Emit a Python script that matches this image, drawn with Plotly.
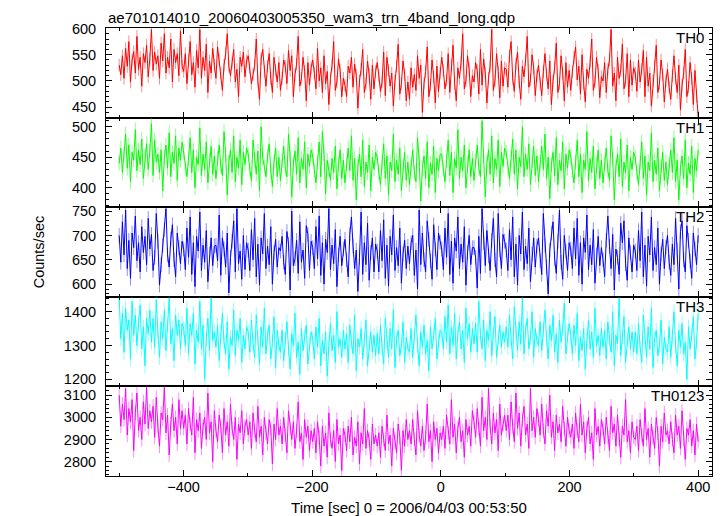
import numpy as np
import plotly.graph_objects as go
from plotly.subplots import make_subplots

title_text = "ae701014010_20060403005350_wam3_trn_4band_long.qdp"
band_names = ["TH0", "TH1", "TH2", "TH3", "TH0123"]
band_colors = ["#ff0000", "#00ff00", "#0000ff", "#00ffff", "#ff00ff"]
err_colors = ["rgba(255,0,0,0.45)", "rgba(0,255,0,0.45)", "rgba(0,0,255,0.45)",
              "rgba(0,255,255,0.45)", "rgba(255,0,255,0.45)"]

# time bins (sec), 0 = 2006/04/03 00:53:50
time_start = -500.0
time_stop = 400.0
n_bins = 360

# typical 1-sigma error bar of each band (counts/sec)
band_errors = [12, 12, 15, 22, 32]

th0 = [
    530, 512, 548, 505, 562, 528, 575, 498, 540, 556, 515, 585, 522, 545, 490, 552, 535, 568, 508, 542,
    598, 520, 555, 532, 548, 505, 572, 538, 590, 515, 545, 525, 580, 498, 560, 535, 552, 510, 595, 528,
    518, 552, 495, 540, 575, 512, 535, 488, 558, 525, 598, 505, 545, 520, 570, 478, 538, 515, 562, 530,
    505, 565, 540, 515, 482, 530, 552, 590, 528, 510, 535, 560, 498, 522, 470, 545, 528, 555, 508, 538,
    548, 525, 495, 512, 530, 580, 500, 465, 542, 560, 518, 490, 528, 552, 505, 478, 545, 520, 498, 535,
    482, 505, 540, 528, 495, 558, 520, 548, 470, 512, 532, 585, 490, 505, 545, 518, 462, 535, 492, 525,
    540, 515, 485, 562, 500, 525, 478, 548, 495, 518, 455, 505, 530, 575, 482, 498, 542, 520, 470, 505,
    492, 470, 528, 515, 545, 488, 532, 510, 448, 500, 522, 560, 478, 495, 538, 512, 465, 530, 485, 518,
    535, 510, 480, 498, 555, 472, 545, 520, 490, 515, 452, 500, 528, 570, 475, 495, 538, 512, 462, 498,
    465, 525, 488, 512, 482, 548, 505, 530, 440, 495, 518, 565, 470, 492, 540, 508, 458, 528, 480, 515,
    545, 520, 485, 502, 552, 478, 530, 568, 495, 462, 525, 505, 535, 590, 485, 500, 548, 522, 470, 510,
    498, 535, 520, 475, 560, 492, 542, 515, 458, 505, 528, 598, 482, 500, 552, 518, 468, 538, 490, 525,
    522, 488, 548, 575, 505, 480, 532, 555, 498, 465, 528, 508, 540, 585, 488, 502, 550, 525, 472, 510,
    530, 495, 472, 518, 552, 512, 485, 538, 455, 500, 525, 572, 478, 495, 548, 515, 462, 535, 488, 520,
    482, 518, 545, 565, 502, 528, 475, 550, 495, 460, 522, 505, 535, 580, 482, 498, 545, 520, 468, 508,
    500, 535, 478, 522, 540, 598, 490, 515, 462, 545, 505, 520, 570, 485, 500, 552, 470, 540, 492, 525,
    515, 480, 540, 498, 522, 558, 470, 545, 490, 515, 452, 500, 528, 568, 478, 495, 540, 512, 460, 500,
    522, 488, 465, 510, 548, 505, 478, 530, 445, 492, 515, 560, 470, 488, 535, 505, 455, 520, 470, 432,
]
th1 = [
    440, 465, 425, 455, 488, 432, 470, 410, 458, 445, 495, 428, 462, 438, 480, 415, 452, 472, 430, 460,
    505, 420, 478, 442, 455, 425, 462, 395, 450, 470, 432, 490, 418, 458, 440, 485, 412, 465, 445, 475,
    458, 432, 418, 448, 482, 425, 462, 400, 450, 438, 498, 420, 455, 430, 475, 408, 445, 468, 422, 452,
    415, 448, 470, 435, 420, 492, 455, 388, 442, 462, 425, 485, 410, 450, 432, 478, 405, 458, 438, 465,
    455, 430, 412, 478, 445, 422, 460, 395, 500, 448, 435, 418, 452, 472, 428, 402, 442, 465, 418, 450,
    412, 445, 468, 432, 418, 488, 452, 385, 440, 460, 422, 482, 408, 448, 430, 475, 400, 455, 435, 462,
    452, 428, 408, 442, 475, 418, 492, 455, 390, 445, 430, 412, 448, 425, 468, 398, 438, 462, 415, 445,
    408, 440, 465, 428, 485, 412, 448, 380, 435, 455, 418, 478, 402, 442, 425, 470, 395, 450, 430, 458,
    450, 425, 405, 440, 472, 415, 452, 388, 442, 428, 488, 410, 445, 422, 465, 395, 435, 458, 412, 442,
    405, 438, 462, 425, 410, 482, 445, 378, 432, 452, 415, 475, 400, 440, 422, 468, 392, 448, 428, 455,
    455, 430, 410, 445, 478, 420, 458, 392, 448, 432, 495, 415, 450, 428, 470, 400, 440, 462, 418, 448,
    412, 445, 470, 432, 418, 510, 452, 385, 440, 462, 422, 485, 408, 448, 430, 478, 402, 458, 435, 465,
    458, 432, 415, 448, 480, 422, 462, 398, 450, 435, 500, 418, 455, 430, 472, 405, 445, 468, 420, 452,
    410, 442, 468, 430, 488, 415, 450, 382, 438, 458, 420, 482, 405, 445, 428, 475, 398, 455, 432, 462,
    452, 428, 408, 442, 478, 418, 455, 392, 445, 430, 492, 412, 448, 425, 468, 398, 438, 462, 415, 445,
    408, 440, 465, 428, 412, 485, 448, 380, 435, 455, 418, 480, 402, 442, 425, 470, 395, 450, 430, 458,
    450, 425, 405, 440, 475, 415, 452, 388, 442, 428, 490, 410, 445, 422, 465, 395, 435, 458, 412, 442,
    405, 438, 462, 425, 482, 410, 445, 380, 432, 452, 415, 478, 400, 440, 422, 468, 392, 448, 428, 462,
]
th2 = [
    700, 645, 728, 660, 752, 632, 690, 612, 705, 675, 740, 648, 685, 625, 718, 665, 698, 640, 735, 672,
    702, 628, 655, 745, 688, 598, 640, 680, 712, 755, 660, 635, 692, 722, 650, 615, 705, 675, 642, 688,
    672, 630, 715, 655, 738, 620, 685, 595, 698, 668, 748, 628, 680, 645, 710, 605, 662, 695, 638, 678,
    680, 648, 742, 618, 695, 672, 635, 705, 582, 655, 688, 730, 625, 755, 642, 668, 610, 700, 630, 685,
    670, 628, 712, 650, 735, 615, 682, 598, 695, 662, 745, 632, 678, 640, 718, 600, 665, 692, 635, 675,
    668, 698, 645, 620, 708, 682, 588, 750, 638, 652, 690, 622, 728, 645, 670, 612, 720, 702, 628, 688,
    675, 632, 718, 652, 740, 618, 685, 600, 692, 665, 755, 630, 680, 642, 712, 595, 660, 698, 638, 672,
    692, 650, 615, 702, 738, 678, 632, 670, 585, 655, 748, 620, 685, 640, 725, 608, 665, 695, 625, 682,
    668, 625, 710, 648, 732, 612, 680, 596, 698, 660, 742, 628, 675, 638, 715, 602, 662, 690, 632, 678,
    642, 685, 700, 618, 670, 590, 752, 640, 705, 650, 625, 730, 692, 648, 610, 722, 672, 630, 705, 686,
    672, 630, 715, 655, 745, 620, 688, 602, 695, 668, 738, 632, 682, 645, 718, 598, 665, 700, 640, 675,
    675, 655, 592, 698, 622, 755, 685, 638, 710, 658, 628, 690, 735, 650, 615, 745, 670, 632, 702, 688,
    670, 628, 712, 650, 738, 615, 682, 598, 700, 662, 748, 630, 678, 642, 715, 605, 662, 695, 635, 678,
    695, 648, 620, 745, 680, 635, 580, 670, 705, 728, 652, 622, 688, 752, 645, 610, 700, 668, 628, 685,
    672, 632, 715, 652, 735, 618, 685, 600, 695, 665, 742, 630, 680, 640, 712, 602, 660, 698, 638, 675,
    650, 615, 690, 740, 678, 632, 702, 588, 672, 655, 620, 725, 685, 730, 642, 608, 695, 665, 625, 680,
    668, 628, 710, 648, 748, 615, 680, 596, 698, 660, 738, 628, 675, 640, 715, 600, 662, 692, 632, 676,
    700, 645, 618, 682, 640, 735, 670, 590, 708, 730, 650, 625, 720, 690, 648, 612, 705, 672, 640, 700,
]
th3 = [
    1440, 1320, 1395, 1280, 1410, 1345, 1375, 1260, 1430, 1330, 1390, 1300, 1365, 1420, 1290, 1355, 1240, 1380, 1335, 1405,
    1310, 1380, 1295, 1435, 1340, 1265, 1370, 1320, 1405, 1285, 1360, 1440, 1305, 1350, 1255, 1390, 1330, 1375, 1290, 1365,
    1350, 1300, 1410, 1275, 1365, 1330, 1395, 1245, 1345, 1310, 1430, 1290, 1360, 1200, 1320, 1380, 1285, 1440, 1315, 1340,
    1295, 1360, 1255, 1340, 1395, 1310, 1275, 1370, 1230, 1325, 1300, 1405, 1270, 1345, 1315, 1380, 1250, 1330, 1290, 1355,
    1340, 1280, 1375, 1305, 1265, 1390, 1320, 1245, 1355, 1295, 1410, 1275, 1330, 1360, 1260, 1310, 1385, 1235, 1345, 1300,
    1280, 1345, 1255, 1320, 1370, 1290, 1230, 1335, 1300, 1395, 1265, 1310, 1215, 1350, 1285, 1325, 1360, 1245, 1305, 1340,
    1320, 1260, 1355, 1295, 1380, 1240, 1315, 1275, 1340, 1210, 1300, 1365, 1285, 1330, 1250, 1400, 1295, 1320, 1265, 1345,
    1290, 1335, 1250, 1360, 1310, 1275, 1390, 1225, 1320, 1295, 1350, 1260, 1315, 1375, 1240, 1305, 1340, 1280, 1330, 1270,
    1335, 1275, 1360, 1295, 1245, 1380, 1310, 1265, 1350, 1290, 1405, 1235, 1320, 1345, 1270, 1300, 1370, 1250, 1325, 1290,
    1280, 1350, 1265, 1325, 1390, 1300, 1240, 1340, 1295, 1360, 1275, 1315, 1225, 1355, 1290, 1330, 1380, 1260, 1310, 1345,
    1340, 1290, 1385, 1310, 1420, 1275, 1355, 1300, 1395, 1260, 1335, 1370, 1290, 1345, 1250, 1410, 1320, 1365, 1280, 1350,
    1305, 1365, 1280, 1430, 1330, 1290, 1375, 1255, 1345, 1315, 1400, 1270, 1335, 1385, 1265, 1325, 1360, 1295, 1340, 1310,
    1355, 1295, 1390, 1320, 1260, 1415, 1335, 1285, 1370, 1305, 1440, 1275, 1345, 1380, 1290, 1325, 1400, 1265, 1350, 1315,
    1300, 1370, 1285, 1345, 1405, 1320, 1260, 1360, 1315, 1390, 1280, 1335, 1250, 1375, 1310, 1350, 1425, 1275, 1330, 1365,
    1330, 1275, 1360, 1300, 1395, 1255, 1325, 1285, 1350, 1230, 1315, 1375, 1290, 1340, 1265, 1410, 1300, 1330, 1270, 1350,
    1295, 1345, 1260, 1370, 1320, 1280, 1400, 1240, 1330, 1305, 1440, 1270, 1325, 1385, 1250, 1315, 1355, 1290, 1340, 1280,
    1340, 1275, 1365, 1295, 1250, 1390, 1310, 1265, 1355, 1290, 1410, 1235, 1320, 1345, 1270, 1300, 1375, 1245, 1325, 1290,
    1280, 1355, 1265, 1325, 1400, 1300, 1240, 1345, 1295, 1365, 1275, 1310, 1200, 1355, 1290, 1330, 1385, 1260, 1310, 1395,
]
th0123 = [
    3100, 2960, 3060, 2990, 3130, 2920, 3040, 2980, 3080, 2850, 3020, 3110, 2940, 3000, 2900, 3070, 2970, 3135, 2950, 3030,
    2980, 3050, 2910, 3090, 2960, 2870, 3020, 2990, 3135, 2930, 3010, 2830, 2970, 3060, 2940, 3000, 2880, 3080, 2950, 3030,
    2950, 3010, 2880, 3040, 2970, 2920, 3090, 2840, 2990, 2940, 3020, 2860, 2960, 3000, 2900, 3110, 2930, 2980, 2800, 3030,
    2940, 2890, 3010, 2960, 2840, 3040, 2920, 2980, 2870, 3060, 2950, 2900, 3000, 2810, 2970, 2930, 3030, 2880, 2960, 2990,
    2920, 2980, 2860, 3020, 2940, 2890, 3050, 2910, 2960, 2830, 3000, 2930, 2880, 2990, 2950, 2790, 2970, 2900, 3040, 2920,
    2960, 2880, 3000, 2920, 2840, 3030, 2950, 2900, 2980, 2860, 2940, 3070, 2890, 2930, 2810, 2990, 2910, 2960, 2850, 2940,
    2890, 2950, 2840, 2980, 2910, 2780, 2960, 2870, 2930, 2820, 3020, 2900, 2860, 2940, 2800, 2990, 2880, 2920, 2760, 2950,
    2920, 2850, 2960, 2890, 3000, 2830, 2910, 2870, 2980, 2790, 2930, 2880, 3040, 2860, 2940, 2900, 2810, 2970, 2880, 2920,
    2870, 2930, 2820, 2960, 2900, 2850, 3010, 2880, 2920, 2780, 2950, 2890, 2840, 2970, 2910, 2760, 2940, 2870, 2990, 2900,
    2940, 2880, 2990, 2900, 2830, 3030, 2920, 2870, 2960, 2850, 2910, 3060, 2890, 2940, 2800, 2980, 2900, 2950, 2840, 2930,
    2900, 2960, 2860, 3010, 2930, 2880, 3080, 2910, 2970, 2840, 2950, 3000, 2890, 2940, 2820, 2990, 2920, 2960, 2870, 3030,
    2980, 2910, 3040, 2950, 2870, 3090, 2940, 3000, 2900, 3130, 2960, 2880, 3020, 2930, 2990, 2850, 3060, 2920, 2970, 3010,
    2940, 3010, 2900, 3070, 2960, 2890, 3110, 2950, 3020, 2870, 2990, 3050, 2920, 2970, 2860, 3130, 2940, 3000, 2910, 3040,
    2990, 2920, 3060, 2940, 2880, 3030, 2960, 3100, 2910, 2980, 2850, 3010, 2930, 2970, 2890, 3050, 2950, 2870, 3000, 2940,
    2910, 2970, 2860, 3020, 2940, 2890, 3060, 2920, 2980, 2840, 2950, 3000, 2880, 2930, 2810, 3040, 2920, 2960, 2870, 2990,
    2950, 2880, 3000, 2910, 2850, 3050, 2930, 2970, 2870, 3010, 2900, 2820, 2960, 2920, 3080, 2890, 2940, 2840, 2980, 2910,
    2900, 2960, 2850, 2990, 2920, 2870, 3040, 2900, 2950, 2820, 2970, 2910, 2860, 3000, 2930, 2780, 2960, 2890, 3020, 2920,
    2940, 2880, 2980, 2900, 2840, 3010, 2920, 2960, 2860, 3030, 2900, 2810, 2950, 2920, 2990, 2870, 2940, 2830, 2970, 2890,
]

series = [th0, th1, th2, th3, th0123]
y_ranges = [[430, 601], [368, 515], [574, 758], [1179, 1444], [2735, 3140]]
y_dticks = [50, 50, 50, 100, 100]
y_minor = [10, 10, 10, 20, 20]
x_range = [-520.5, 421.5]
x_title = "Time [sec] 0 = 2006/04/03 00:53:50"

time = np.linspace(time_start, time_stop, n_bins)

FONT = "Liberation Sans, Arial, Helvetica, sans-serif"

fig = make_subplots(rows=5, cols=1, shared_xaxes=True, vertical_spacing=0)

for i, (vals, col) in enumerate(zip(series, band_colors)):
    fig.add_trace(
        go.Scatter(x=time, y=vals, mode="lines",
                   line=dict(color=col, width=1),
                   error_y=dict(type="constant", value=band_errors[i],
                                color=err_colors[i], thickness=1, width=0),
                   showlegend=False),
        row=i + 1, col=1,
    )
    fig.update_yaxes(
        range=y_ranges[i], dtick=y_dticks[i], tick0=0, automargin=False,
        showline=True, linecolor="black", linewidth=1, mirror="ticks",
        ticks="inside", ticklen=6, tickcolor="black", tickwidth=1,
        minor=dict(dtick=y_minor[i], ticks="inside", ticklen=3, tickcolor="black"),
        showgrid=False, zeroline=False, ticklabelstandoff=6,
        tickfont=dict(size=14.5, color="black", family=FONT),
        row=i + 1, col=1,
    )
    fig.update_xaxes(
        range=x_range, dtick=200, tick0=0, automargin=False,
        showline=True, linecolor="black", linewidth=1, mirror="ticks",
        ticks="inside", ticklen=6, tickcolor="black", tickwidth=1,
        minor=dict(dtick=100, ticks="inside", ticklen=3, tickcolor="black"),
        showgrid=False, zeroline=False, showticklabels=False,
        row=i + 1, col=1,
    )
    fig.add_annotation(
        text=band_names[i], xref="paper", yref="paper",
        x=0.99, y=1 - i * 0.2, xanchor="right", yanchor="top", yshift=1,
        showarrow=False, font=dict(size=15, color="black", family=FONT),
    )

# separate label axis under the bottom panel
fig.add_trace(go.Scatter(x=[], y=[], xaxis="x6", yaxis="y5", showlegend=False))
fig.update_layout(
    xaxis6=dict(
        overlaying="x5", anchor="y5", side="bottom", range=x_range, automargin=False,
        dtick=200, tick0=0, ticks="outside", ticklen=0, tickcolor="rgba(0,0,0,0)",
        ticklabelstandoff=-2,
        showline=False, showgrid=False, zeroline=False,
        tickfont=dict(size=14.5, color="black", family=FONT),
        title=dict(text=x_title, font=dict(size=15, color="black", family=FONT), standoff=10),
    )
)

fig.add_annotation(
    text="Counts/sec", xref="paper", yref="paper", x=-0.11, y=0.5,
    xanchor="center", yanchor="middle", textangle=-90, showarrow=False,
    font=dict(size=14.5, color="black", family=FONT),
)
fig.add_annotation(
    text=title_text, xref="paper", yref="paper", x=0.0, y=1.0,
    xanchor="left", yanchor="bottom", yshift=0, showarrow=False,
    font=dict(size=15, color="black", family=FONT),
)

# the page body has an 8px margin, so the figure is sized to fit the window
fig.update_layout(
    width=715, height=508,
    margin=dict(l=98, r=11, t=20, b=40, autoexpand=False),
    paper_bgcolor="white", plot_bgcolor="white",
)

fig.write_html("out.html")
